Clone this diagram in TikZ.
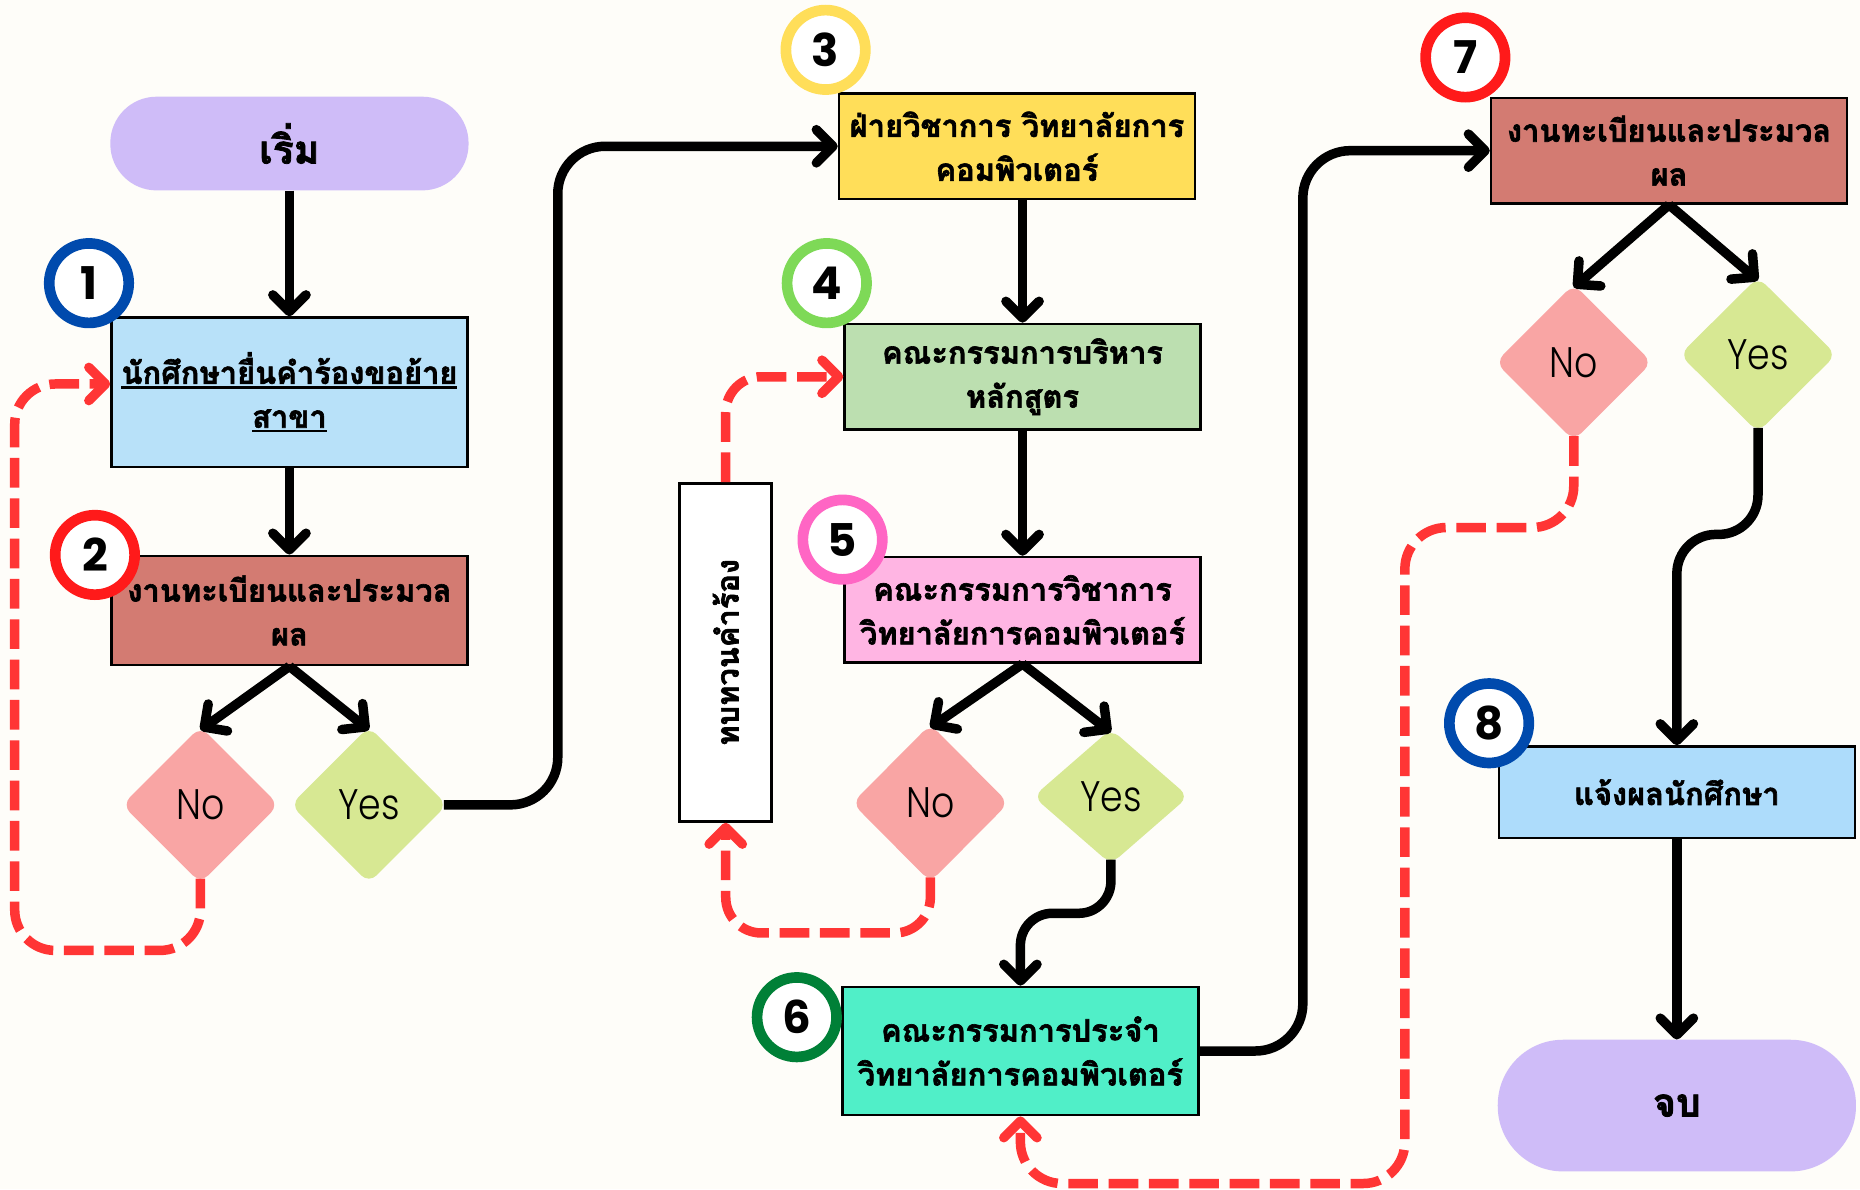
\documentclass[tikz,border=0pt]{standalone}
\usepackage{fontspec}
\usetikzlibrary{arrows.meta,shapes.geometric}
\newfontfamily\thai[Script=Thai,BoldFeatures={FakeBold=2}]{Loma}
\newfontfamily\numfont{Poppins}
\IfFontExistsTF{Poppins Light}{\newfontfamily\ynfont{Poppins Light}[FakeStretch=0.85]}{\newfontfamily\ynfont{Poppins}[FakeStretch=0.85]}
\definecolor{bgc}{HTML}{FEFDF9}
\definecolor{lav}{HTML}{CFBCF8}
\definecolor{lblue}{HTML}{B8E1F9}
\definecolor{brick}{HTML}{D37B72}
\definecolor{yel}{HTML}{FFDE59}
\definecolor{lgreen}{HTML}{BCDFB0}
\definecolor{lpink}{HTML}{FFB5E3}
\definecolor{aqua}{HTML}{50EFC8}
\definecolor{sky}{HTML}{ADDCFB}
\definecolor{nopink}{HTML}{F9A5A4}
\definecolor{yesgreen}{HTML}{D7E893}
\definecolor{reddash}{HTML}{FF3535}
\definecolor{cblue}{HTML}{004AAD}
\definecolor{cred}{HTML}{FF1A1A}
\definecolor{cyellow}{HTML}{FFDE59}
\definecolor{cgreen}{HTML}{7ED957}
\definecolor{cpink}{HTML}{FF66C4}
\definecolor{cdgreen}{HTML}{008037}
\newcommand\myul[1]{\setbox0=\hbox{#1}\leavevmode\rlap{\rule[-4pt]{\wd0}{2pt}}\box0}
\begin{document}
\begin{tikzpicture}[x=1pt,y=-1pt,
  box/.style={draw=black, line width=2.2pt, inner sep=0pt, minimum width=300pt},
  pill/.style={fill=lav, inner sep=0pt, minimum width=302pt},
  txt/.style={font={\thai\bfseries\fontsize{26pt}{37pt}\selectfont}, align=center, inner sep=0pt},
  ring/.style={circle, fill=white, draw=#1, line width=9pt, minimum size=67pt, inner sep=0pt,
     font={\numfont\bfseries\fontsize{38pt}{38pt}\selectfont}},
  dia/.style={diamond, fill=#1, inner sep=0pt, aspect=1, rounded corners=9pt,
     font={\ynfont\fontsize{36pt}{36pt}\selectfont}},
  blk/.style={line width=8pt, -{Straight Barb[length=14pt,width=28pt,round]}},
  rdash/.style={draw=reddash, line width=8pt, dash pattern=on 25pt off 9pt,
     -{Straight Barb[length=14pt,width=28pt,round]}}
]
\fill[bgc] (0,0) rectangle (1568,1002.4);
\useasboundingbox (0,0) rectangle (1568,1002.4);

% terminals
\node[pill, rounded corners=39pt, minimum height=79pt] (start) at (244,121) {};
\node[txt, font={\thai\bfseries\fontsize{33pt}{33pt}\selectfont}] (startt) at (start.center) {เริ่ม};
\node[pill, rounded corners=55pt, minimum height=111pt] (end) at (1413.6,932) {};
\node[txt, font={\thai\bfseries\fontsize{33pt}{33pt}\selectfont}] (endt) at (end.center) {จบ};

% process boxes
\node[box, fill=lblue, minimum height=126pt] (b1) at (244,330.7) {};
\node[txt] (b1t) at (b1.center) {\myul{นักศึกษายื่นคำร้องขอย้าย}\\\myul{สาขา}};
\node[box, fill=brick, minimum height=92pt] (b2) at (244,514.6) {};
\node[txt] (b2t) at (b2.center) {งานทะเบียนและประมวล\\ผล};
\node[box, fill=yel, minimum height=89pt] (b3) at (857.3,123.3) {};
\node[txt] (b3t) at (b3.center) {ฝ่ายวิชาการ วิทยาลัยการ\\คอมพิวเตอร์};
\node[box, fill=lgreen, minimum height=89pt] (b4) at (862,317.6) {};
\node[txt] (b4t) at (b4.center) {คณะกรรมการบริหาร\\หลักสูตร};
\node[box, fill=lpink, minimum height=89pt] (b5) at (862,514.1) {};
\node[txt] (b5t) at (b5.center) {คณะกรรมการวิชาการ\\วิทยาลัยการคอมพิวเตอร์};
\node[box, fill=aqua, minimum height=108pt] (b6) at (860.2,886) {};
\node[txt] (b6t) at (b6.center) {คณะกรรมการประจำ\\วิทยาลัยการคอมพิวเตอร์};
\node[box, fill=brick, minimum height=89pt] (b7) at (1407,127) {};
\node[txt] (b7t) at (b7.center) {งานทะเบียนและประมวล\\ผล};
\node[box, fill=sky, minimum height=77pt] (b8) at (1413.6,667.8) {};
\node[txt] (b8t) at (b8.center) {แจ้งผลนักศึกษา};
\node[box, fill=white, minimum width=77.5pt, minimum height=285pt] (rev) at (611.8,550) {};
\node[txt, rotate=90] (revt) at (rev.center) {ทบทวนคำร้อง};

% decisions
\node[dia=nopink, minimum width=132pt, minimum height=132pt] (d1no) at (169,678.5) {No};
\node[dia=yesgreen, minimum width=132pt, minimum height=132pt] (d1yes) at (311,678.5) {Yes};
\node[dia=nopink, minimum width=132pt, minimum height=133pt] (d2no) at (784.3,677) {No};
\node[dia=yesgreen, minimum width=131pt, minimum height=114pt] (d2yes) at (936.5,671.5) {Yes};
\node[dia=nopink, minimum width=132pt, minimum height=132pt] (d3no) at (1326.7,305.5) {No};
\node[dia=yesgreen, minimum width=132pt, minimum height=131pt] (d3yes) at (1482,299) {Yes};

% black connectors
\draw[blk] (start) -- (b1);
\draw[blk] (b1) -- (b2);
\draw[blk] (b2.south) -- ([yshift=-3pt]d1no.north);
\draw[blk] (b2.south) -- ([yshift=-3pt]d1yes.north);
\draw[blk, rounded corners=40pt] ([xshift=-3pt]d1yes.east) -- ++(96,0) |- (b3.west);
\draw[blk] (b3.south -| b4.north) -- (b4.north);
\draw[blk] (b4) -- (b5);
\draw[blk] (b5.south) -- ([yshift=-3pt]d2no.north);
\draw[blk] (b5.south) -- ([yshift=-3pt]d2yes.north);
\draw[blk, rounded corners=27pt] ([yshift=4pt]d2yes.south) -- ++(0,45.2) -| (b6.north);
\draw[blk, rounded corners=40pt] (b6.east) -- ++(87,0) |- (b7.west);
\draw[blk] (b7.south) -- ([yshift=-3pt]d3no.north);
\draw[blk] (b7.south) -- ([yshift=-3pt]d3yes.north);
\draw[blk, rounded corners=33pt] ([yshift=4pt]d3yes.south) -- ++(0,89.8) -| (b8.north);
\draw[blk] (b8) -- (end);

% red dashed connectors
\draw[rdash, rounded corners=34pt] ([yshift=4pt]d1no.south) -- ++(0,60.5) -- ++(-156.6,0) |- ([yshift=7pt]b1.west);
\draw[rdash, rounded corners=30pt] ([yshift=4pt]d2no.south) -- ++(0,46.8) -| (rev.south);
\draw[rdash, rounded corners=30pt] (rev.north) |- (b4.west);
\draw[rdash, rounded corners=35pt] ([yshift=4pt]d3no.south) -- ++(0,77) -- ++(-142.4,0) -- ++(0,553) -| (b6.south);

% step numbers
\node[ring=cblue] (c1) at (75,238.7) {1};
\node[ring=cred] (c2) at (80,467.8) {2};
\node[ring=cyellow] (c3) at (696,42) {3};
\node[ring=cgreen] (c4) at (697,238.7) {4};
\node[ring=cpink] (c5) at (710.3,454.9) {5};
\node[ring=cdgreen] (c6) at (671.7,857.5) {6};
\node[ring=cred] (c7) at (1235.3,48.4) {7};
\node[ring=cblue] (c8) at (1255.3,609.7) {8};
\end{tikzpicture}
\end{document}
